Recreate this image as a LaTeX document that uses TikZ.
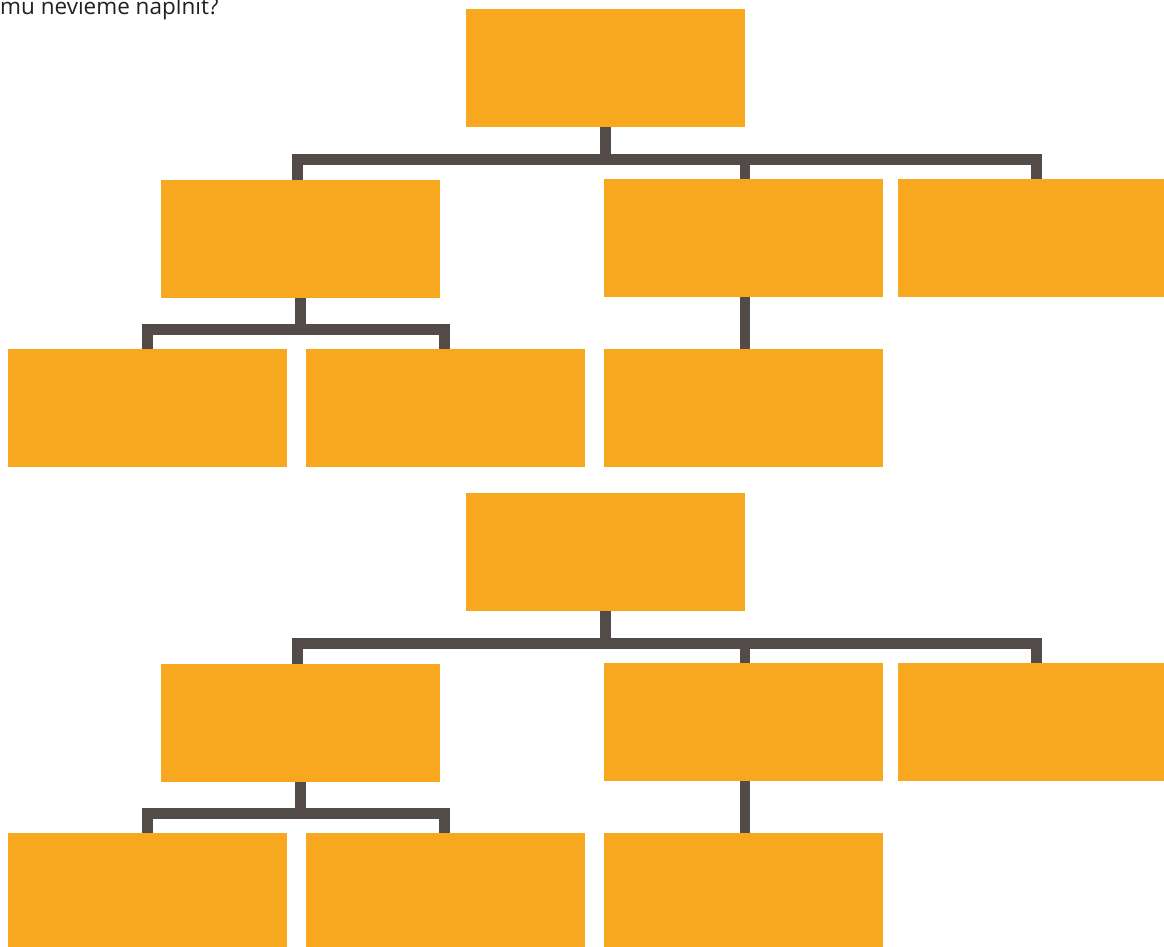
\documentclass[tikz,border=0pt]{standalone}
\usepackage{fontspec}
\setmainfont{Open Sans}
\definecolor{boxorange}{HTML}{F8A81E}
\definecolor{barbrown}{HTML}{534B47}
\definecolor{txtgray}{HTML}{231F20}
\begin{document}
\begin{tikzpicture}[x=1pt,y=-1pt,
  box/.style={fill=boxorange,draw=none,inner sep=0pt,anchor=north west,minimum height=118pt},
  conn/.style={draw=barbrown,line width=10.5pt}]
\useasboundingbox (0,0) rectangle (1164,947);
\node[anchor=base west,inner sep=0pt,text=txtgray,font=\fontsize{22.5}{26}\selectfont] (q) at (0,15) {mu nevieme naplnit?};
\foreach \o/\s in {0/a,484/b}{
  \node[box,minimum width=279pt] (t\s) at (466,9+\o) {};
  \node[box,minimum width=279pt] (A\s) at (161,180+\o) {};
  \node[box,minimum width=279pt] (B\s) at (604,179+\o) {};
  \node[box,minimum width=266pt] (C\s) at (898,179+\o) {};
  \node[box,minimum width=279pt] (D\s) at (8,349+\o) {};
  \node[box,minimum width=279pt] (E\s) at (306,349+\o) {};
  \node[box,minimum width=279pt] (F\s) at (604,349+\o) {};
  \coordinate (bar\s) at (605.5,159.5+\o);
  \coordinate (sub\s) at (300.5,329.5+\o);
  \draw[conn] (t\s.south) -- (t\s.south |- bar\s);
  \draw[conn] ([xshift=-3pt]A\s.north) |- ([xshift=5.5pt]C\s.north |- bar\s) -- ([xshift=5.5pt]C\s.north);
  \draw[conn] ([xshift=1.5pt]B\s.north) -- ([xshift=1.5pt]B\s.north |- bar\s);
  \draw[conn] (A\s.south) -- (A\s.south |- sub\s);
  \draw[conn] ([xshift=0pt]D\s.north) |- ([xshift=-1pt]E\s.north |- sub\s) -- ([xshift=-1pt]E\s.north);
  \draw[conn] ([xshift=1.5pt]B\s.south) -- ([xshift=1.5pt]F\s.north);
}
\end{tikzpicture}
\end{document}
